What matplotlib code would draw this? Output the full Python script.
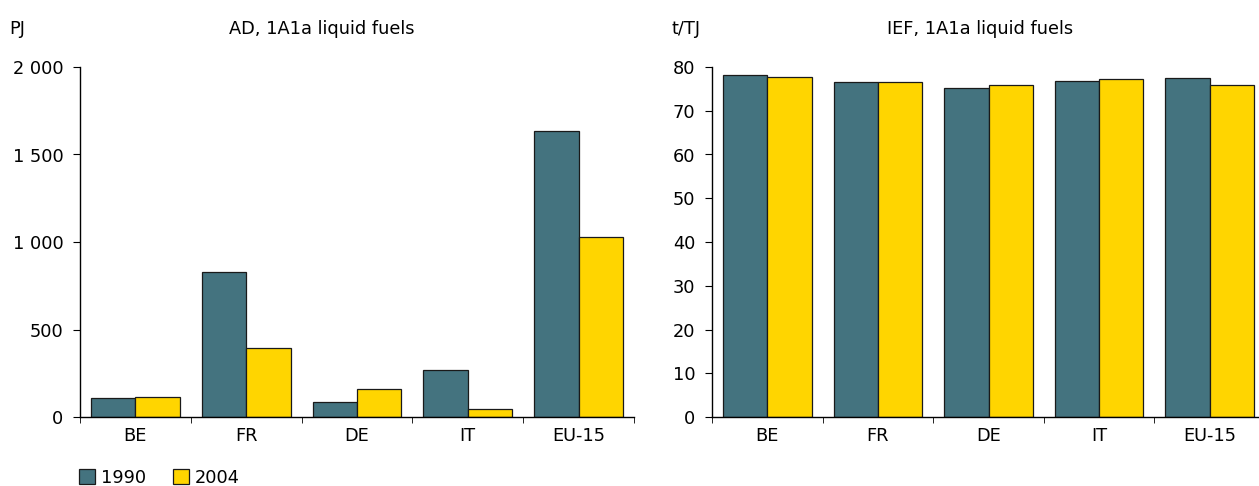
import matplotlib
matplotlib.use("Agg")
import matplotlib.pyplot as plt
from matplotlib.patches import Patch
import numpy as np

categories = ["BE", "FR", "DE", "IT", "EU-15"]
ad_1990 = [107, 829, 84, 271, 1633]
ad_2004 = [115, 394, 159, 46, 1030]
ief_1990 = [78.2, 76.5, 75.3, 76.7, 77.4]
ief_2004 = [77.7, 76.6, 75.9, 77.3, 75.9]
years = ["1990", "2004"]

c1990 = "#44737f"
c2004 = "#ffd500"
plt.rcParams['font.family'] = ['DejaVu Sans']
fs = 12.8

W, H = 1259, 486
fig = plt.figure(figsize=(W / 100, H / 100), dpi=100)

def make_ax(x0, x1, y0, y1):
    return fig.add_axes([x0 / W, 1 - y1 / H, (x1 - x0) / W, (y1 - y0) / H])

def draw(ax, v1, v2, ymax, step, fmt, unit, title, ux, tx):
    x = np.arange(len(categories))
    bw = 0.4
    ax.bar(x - bw / 2, v1, bw, color=c1990, edgecolor="#1a1a1a", linewidth=0.9)
    ax.bar(x + bw / 2, v2, bw, color=c2004, edgecolor="#1a1a1a", linewidth=0.9)
    ax.set_xlim(-0.5, len(categories) - 0.5)
    ax.set_ylim(0, ymax)
    ticks = np.arange(0, ymax + 1e-9, step)
    ax.set_yticks(ticks)
    ax.set_yticklabels([fmt(v) for v in ticks], fontsize=fs)
    ax.set_xticks(x)
    ax.set_xticklabels(categories, fontsize=fs)
    ax.tick_params(axis="x", which="major", length=0, pad=7)
    ax.set_xticks(np.arange(-0.5, len(categories), 1.0), minor=True)
    ax.tick_params(axis="x", which="minor", length=4, direction="out")
    ax.tick_params(axis="y", length=5, direction="out", pad=7)
    for s in ["top", "right"]:
        ax.spines[s].set_visible(False)
    for s in ["left", "bottom"]:
        ax.spines[s].set_linewidth(1.0)
    fig.text(ux / W, 1 - 29 / H, unit, fontsize=fs, va="center", ha="left")
    fig.text(tx / W, 1 - 29 / H, title, fontsize=fs, va="center", ha="center")

def fmt_ad(v):
    return f"{int(v):,}".replace(",", " ")

def fmt_ief(v):
    return f"{int(v)}"

ax1 = make_ax(80, 634, 67, 417)
draw(ax1, ad_1990, ad_2004, 2000, 500, fmt_ad, "PJ", "AD, 1A1a liquid fuels", 9, 322)

ax2 = make_ax(712, 1265, 67, 417)
draw(ax2, ief_1990, ief_2004, 80, 10, fmt_ief, "t/TJ", "IEF, 1A1a liquid fuels", 672, 980)

handles = [Patch(facecolor=c1990, edgecolor="#1a1a1a", linewidth=0.9),
           Patch(facecolor=c2004, edgecolor="#1a1a1a", linewidth=0.9)]
fig.legend(handles, years, loc="center left", bbox_to_anchor=(79 / W, 1 - 478 / H),
           ncol=2, frameon=False, fontsize=fs, handlelength=0.9, handleheight=0.9,
           handletextpad=0.35, columnspacing=1.5, borderpad=0, borderaxespad=0)

fig.savefig("out.png", dpi=100)
